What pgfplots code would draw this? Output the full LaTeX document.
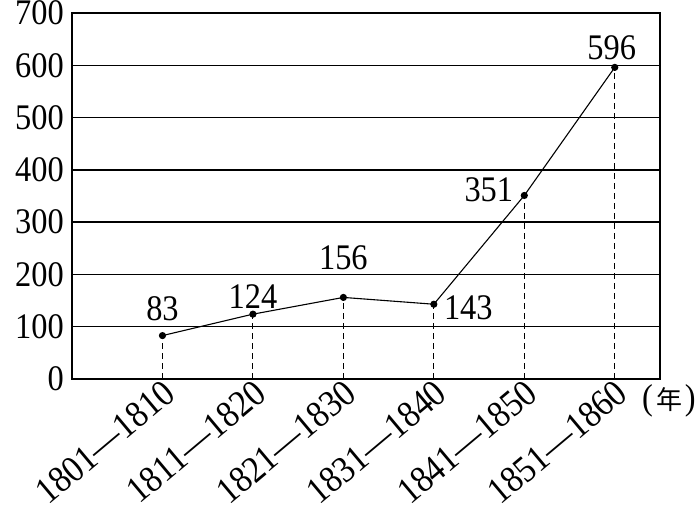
\documentclass[border=0pt]{standalone}
\usepackage{pgfplots}
\pgfplotsset{compat=1.18}
\usepackage{fontspec}
\setmainfont[FakeStretch=0.9]{Liberation Serif}
\newfontfamily\cjk{Noto Sans CJK SC}
\newcommand\lblfont{\fontsize{36}{36}\selectfont}
\newcommand\xlblfont{\fontsize{37.5}{37.5}\selectfont}
\begin{document}
\begin{tikzpicture}
\begin{axis}[
    width=588pt, height=366pt,
    scale only axis,
    xmin=-1, xmax=5.5,
    ymin=0, ymax=700,
    ytick={0,100,...,700},
    xtick={0,1,2,3,4,5},
    xticklabels={1801—1810,1811—1820,1821—1830,1831—1840,1841—1850,1851—1860},
    xticklabel style={rotate=40, anchor=north east, font=\xlblfont, inner sep=0pt, xshift=0pt, yshift=1.5pt},
    yticklabel style={font=\lblfont, inner sep=0pt, xshift=-8pt},
    /pgf/number format/assume math mode=true,
    major tick length=0pt,
    ymajorgrids,
    grid style={black, line width=1.3pt},
    axis line style={black, line width=1.3pt},
    clip=false,
]
\addplot[ycomb, black, line width=0.9pt, dash pattern=on 6pt off 4pt, mark=none] coordinates {
    (0,83) (1,124) (2,156) (3,143) (4,351) (5,596)
};
\addplot[black, line width=1.1pt, mark=*, mark size=3pt] coordinates {
    (0,83) (1,124) (2,156) (3,143) (4,351) (5,596)
};
\begin{scope}[every node/.style={font=\lblfont, inner sep=0pt}]
\node[anchor=south, yshift=15pt] at (axis cs:0,83) {83};
\node[anchor=south, yshift=5pt] at (axis cs:1,124) {124};
\node[anchor=south, yshift=27pt] at (axis cs:2,156) {156};
\node[anchor=west, xshift=10pt, yshift=-4pt] at (axis cs:3,143) {143};
\node[anchor=east, xshift=-11pt, yshift=6pt] at (axis cs:4,351) {351};
\node[anchor=south, xshift=-3pt, yshift=7pt] at (axis cs:5,596) {596};
\end{scope}
\node[anchor=west, font=\lblfont, inner sep=0pt] at ([xshift=-18pt, yshift=-22pt]rel axis cs:1,0)
    {(\hspace{4pt}{\cjk\fontsize{26}{26}\selectfont 年}\hspace{2pt})};
\coordinate (ll) at (rel axis cs:0,0);
\coordinate (ur) at (rel axis cs:1,1);
\end{axis}
\pgfresetboundingbox
\path[use as bounding box] ([shift={(-72pt,-129pt)}]ll) rectangle ([shift={(40pt,13pt)}]ur);
\end{tikzpicture}
\end{document}
